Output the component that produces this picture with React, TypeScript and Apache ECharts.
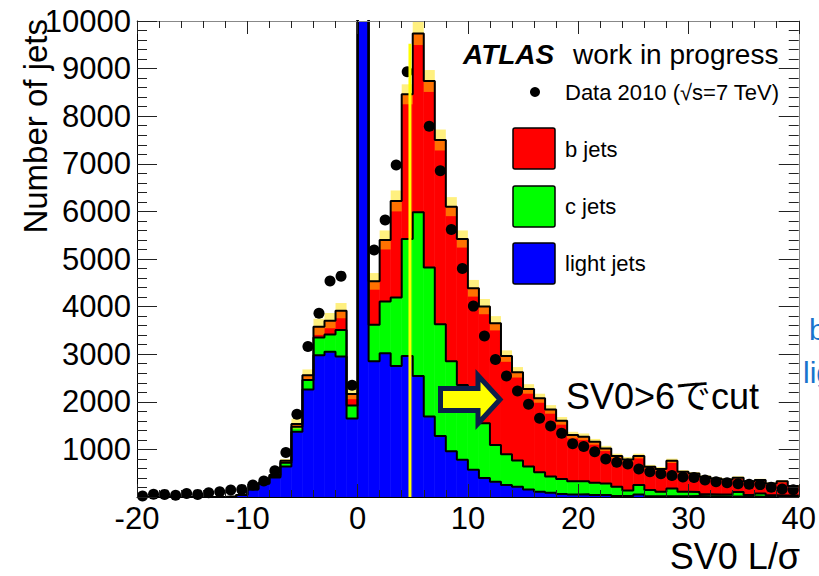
import React, { useEffect, useRef } from 'react';
import * as echarts from 'echarts';

// ---- data (bins of width 1, from -20 to 40) ----
const binStart = -20;
const binWidth = 1;

const lightJets = [
  0, 0, 0, 0, 0, 0, 0, 2, 10, 40,
  160, 280, 410, 640, 1370, 2260, 2980, 3050, 2950, 1650,
  12000, 2850, 3020, 2750, 2960, 2540, 1690, 1280, 960, 780,
  570, 400, 320, 250, 215, 160, 110, 90, 65, 50,
  60, 40, 40, 20, 20, 50, 15, 15, 15, 15,
  20, 15, 15, 10, 10, 10, 5, 5, 5, 5,
];

const cJets = [
  0, 0, 0, 0, 0, 0, 0, 0, 0, 0,
  5, 10, 20, 80, 105, 200, 370, 365, 560, 270,
  0, 770, 1085, 1440, 2460, 3440, 3130, 2350, 1890, 1575,
  1410, 1150, 770, 650, 550, 480, 410, 340, 315, 280,
  270, 260, 245, 195, 115, 200, 130, 95, 165, 95,
  85, 45, 35, 45, 95, 30, 70, 30, 25, 25,
];

const bJets = [
  0, 0, 0, 0, 0, 0, 0, 0, 0, 0,
  10, 10, 30, 40, 60, 100, 225, 290, 405, 245,
  0, 910, 1295, 2030, 3040, 3760, 3920, 3870, 3250, 3065,
  2405, 2450, 2560, 2060, 1855, 1630, 1555, 1410, 1220, 970,
  935, 860, 735, 645, 655, 610, 490, 480, 580, 420,
  390, 365, 340, 315, 300, 290, 280, 250, 300, 200,
];

const mcError = [
  0, 0, 0, 0, 0, 0, 0, 2, 5, 8,
  15, 20, 25, 40, 110, 120, 170, 160, 160, 110,
  0, 175, 200, 220, 210, 245, 230, 220, 200, 180,
  175, 160, 150, 120, 110, 100, 95, 90, 80, 70,
  70, 60, 55, 50, 50, 50, 40, 40, 45, 35,
  30, 30, 28, 28, 30, 25, 28, 25, 25, 22,
];

const data2010: (number | null)[] = [
  20, 60, 55, 35, 75, 55, 90, 110, 145, 160,
  250, 335, 550, 935, 1740, 3160, 3860, 4540, 4640, 2350,
  null, 5190, 5820, 6975, 8935, null, 7790, 6855, 5620, 4800,
  4010, 3380, 2890, 2540, 2225, 1950, 1655, 1490, 1340, 1120,
  1060, 950, 800, 730, 695, 590, 530, 490, 450, 420,
  410, 357, 322, 300, 280, 270, 260, 205, 170, 150,
];

const cutLineX = 4.75;
const cutLineTop = 9520;

const xMin = -20, xMax = 40, xInterval = 10;
const yMin = 0, yMax = 10000, yInterval = 1000;

const FONT = '"Liberation Sans", Arial, "Noto Sans CJK JP", sans-serif';

// ---- build helpers ----
const nBins = lightJets.length;
const edge = (i: number) => binStart + i * binWidth;

const layers = (lo: number[], hi: number[]) => {
  const out: number[][] = [];
  for (let i = 0; i < nBins; i++) {
    if (hi[i] > lo[i]) out.push([edge(i), edge(i + 1), lo[i], hi[i]]);
  }
  return out;
};

const cumLight = lightJets.slice();
const cumC = lightJets.map((v, i) => v + cJets[i]);
const cumTotal = cumC.map((v, i) => v + bJets[i]);

const stepPoints = (vals: number[]) => {
  const pts: number[][] = [];
  for (let i = 0; i < nBins; i++) {
    pts.push([edge(i), vals[i]]);
    pts.push([edge(i + 1), vals[i]]);
  }
  return pts;
};

const bandData: number[][] = [];
for (let i = 0; i < nBins; i++) {
  if (mcError[i] > 0 && cumTotal[i] > 0) {
    bandData.push([edge(i), edge(i + 1), cumTotal[i] - mcError[i], cumTotal[i] + mcError[i]]);
  }
}

const pointData: number[][] = [];
data2010.forEach((v, i) => {
  if (v !== null) pointData.push([edge(i) + binWidth / 2, v]);
});

const makeRectRender = (fill: string, withStroke: boolean) => (params: any, api: any) => {
  const x0 = api.value(0), x1 = api.value(1), y0 = api.value(2), y1 = api.value(3);
  const a = api.coord([x0, y1]);
  const b = api.coord([x1, y0]);
  const cs = params.coordSys;
  const shape = echarts.graphic.clipRectByRect(
    { x: a[0], y: a[1], width: b[0] - a[0], height: b[1] - a[1] },
    { x: cs.x, y: cs.y, width: cs.width, height: cs.height }
  );
  if (!shape) return null;
  return {
    type: 'rect',
    shape,
    style: withStroke ? { fill, stroke: fill, lineWidth: 0.6 } : { fill },
  };
};

const rectSeries = (name: string, data: number[][], fill: string, withStroke = true) => ({
  type: 'custom',
  name,
  data,
  renderItem: makeRectRender(fill, withStroke),
  encode: { x: [0, 1], y: [2, 3] },
  clip: true,
  silent: true,
});

const outline = (vals: number[]) => ({
  type: 'line',
  data: stepPoints(vals),
  symbol: 'none',
  lineStyle: { color: '#000', width: 2 },
  clip: true,
  silent: true,
});

const baseX = {
  type: 'value',
  min: xMin,
  max: xMax,
  interval: xInterval,
  z: 10,
  splitLine: { show: false },
  minorSplitLine: { show: false },
  axisTick: { show: true, inside: true, length: 13, lineStyle: { color: '#222', width: 1 } },
  minorTick: { show: true, splitNumber: 5, length: 7, lineStyle: { color: '#222', width: 1 } },
};

const baseY = {
  type: 'value',
  min: yMin,
  max: yMax,
  interval: yInterval,
  z: 10,
  splitLine: { show: false },
  minorSplitLine: { show: false },
  axisTick: { show: true, inside: true, length: 20, lineStyle: { color: '#222', width: 1 } },
  minorTick: { show: true, splitNumber: 5, length: 10, lineStyle: { color: '#222', width: 1 } },
};

const option: any = {
  animation: false,
  backgroundColor: '#fff',
  grid: { left: 137, right: 18, top: 21, bottom: 79, containLabel: false },
  xAxis: [
    {
      ...baseX,
      position: 'bottom',
      axisLine: { show: true, onZero: false, lineStyle: { color: '#000', width: 1 } },
      axisLabel: { fontSize: 31, color: '#000', fontFamily: FONT, margin: 6, formatter: (v: number) => String(v) },
    },
    {
      ...baseX,
      position: 'top',
      axisLine: { show: true, onZero: false, lineStyle: { color: '#888', width: 1 } },
      axisLabel: { show: false },
    },
  ],
  yAxis: [
    {
      ...baseY,
      position: 'left',
      axisLine: { show: true, onZero: false, lineStyle: { color: '#000', width: 1 } },
      axisLabel: {
        fontSize: 31, color: '#000', fontFamily: FONT, margin: 6,
        formatter: (v: number) => (v === 0 ? '' : String(v)),
      },
    },
    {
      ...baseY,
      position: 'right',
      axisLine: { show: true, onZero: false, lineStyle: { color: '#888', width: 1 } },
      axisLabel: { show: false },
    },
  ],
  series: [
    rectSeries('light jets', layers(new Array(nBins).fill(0), cumLight), '#0000ff'),
    rectSeries('c jets', layers(cumLight, cumC), '#00ff00'),
    rectSeries('b jets', layers(cumC, cumTotal), '#ff0000'),
    rectSeries('MC uncertainty', bandData, 'rgba(255,225,0,0.5)', false),
    outline(cumLight),
    outline(cumC),
    outline(cumTotal),
    {
      type: 'scatter',
      name: 'Data 2010',
      data: pointData,
      symbol: 'circle',
      symbolSize: 11,
      itemStyle: { color: '#000', opacity: 1 },
      silent: true,
    },
    {
      type: 'line',
      data: [[cutLineX, 0], [cutLineX, cutLineTop]],
      symbol: 'none',
      lineStyle: { color: '#ffff00', width: 3 },
      z: 5,
      silent: true,
    },
  ],
  graphic: [
    { type: 'text', z: 100, x: 463, y: 54, style: { text: 'ATLAS', fontSize: 28, fontWeight: 'bold', fontStyle: 'italic', fontFamily: FONT, fill: '#000', align: 'left', verticalAlign: 'middle' } },
    { type: 'text', z: 100, x: 573, y: 54, style: { text: 'work in progress', fontSize: 28, fontFamily: FONT, fill: '#000', align: 'left', verticalAlign: 'middle' } },
    { type: 'circle', z: 100, shape: { cx: 535, cy: 92, r: 5 }, style: { fill: '#000' } },
    { type: 'text', z: 100, x: 565, y: 92, style: { text: 'Data 2010 (√s=7 TeV)', fontSize: 22, fontFamily: FONT, fill: '#000', align: 'left', verticalAlign: 'middle' } },
    { type: 'rect', z: 100, shape: { x: 513, y: 128, width: 42, height: 41, r: 2 }, style: { fill: '#ff0000', stroke: '#000', lineWidth: 1.5 } },
    { type: 'text', z: 100, x: 565, y: 149, style: { text: 'b jets', fontSize: 22, fontFamily: FONT, fill: '#000', align: 'left', verticalAlign: 'middle' } },
    { type: 'rect', z: 100, shape: { x: 513, y: 186, width: 42, height: 41, r: 2 }, style: { fill: '#00ff00', stroke: '#000', lineWidth: 1.5 } },
    { type: 'text', z: 100, x: 565, y: 206, style: { text: 'c jets', fontSize: 22, fontFamily: FONT, fill: '#000', align: 'left', verticalAlign: 'middle' } },
    { type: 'rect', z: 100, shape: { x: 513, y: 243, width: 42, height: 41, r: 2 }, style: { fill: '#0000ff', stroke: '#000', lineWidth: 1.5 } },
    { type: 'text', z: 100, x: 565, y: 263, style: { text: 'light jets', fontSize: 22, fontFamily: FONT, fill: '#000', align: 'left', verticalAlign: 'middle' } },
    {
      type: 'polygon', z: 100,
      shape: { points: [[440.5, 388.5], [478, 388.5], [478, 375.5], [500, 399.5], [478, 423.5], [478, 410.5], [440.5, 410.5]] },
      style: { fill: '#ffff00', stroke: '#0d1f4a', lineWidth: 5, lineJoin: 'miter' },
    },
    { type: 'text', z: 100, x: 566, y: 396, style: { text: 'SV0>6でcut', fontSize: 36, fontFamily: FONT, fill: '#000', align: 'left', verticalAlign: 'middle' } },
    { type: 'text', z: 100, x: 809, y: 329, style: { text: 'b', fontSize: 30, fontFamily: FONT, fill: '#1874cd', align: 'left', verticalAlign: 'middle' } },
    { type: 'text', z: 100, x: 803, y: 372, style: { text: 'lig', fontSize: 30, fontFamily: FONT, fill: '#1874cd', align: 'left', verticalAlign: 'middle' } },
    { type: 'text', z: 100, x: 800, y: 556, style: { text: 'SV0 L/σ', fontSize: 36, fontFamily: FONT, fill: '#000', align: 'right', verticalAlign: 'middle' } },
    { type: 'text', z: 100, x: 35, y: 19, rotation: Math.PI / 2, style: { text: 'Number of jets', fontSize: 33, fontFamily: FONT, fill: '#000', align: 'right', verticalAlign: 'middle' } },
  ],
};

export default function App() {
  const ref = useRef<HTMLDivElement>(null);
  useEffect(() => {
    if (!ref.current) return;
    const chart = echarts.init(ref.current, undefined, { renderer: 'svg' });
    chart.setOption(option);
    return () => chart.dispose();
  }, []);
  return (
    <div
      ref={ref}
      style={{ position: 'fixed', left: 0, top: 0, width: 819, height: 576, background: '#fff' }}
    />
  );
}
